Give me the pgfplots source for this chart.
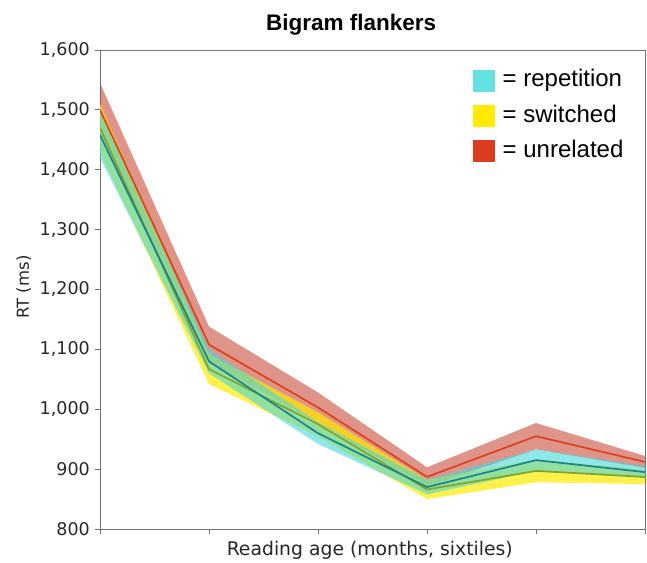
\documentclass[border=0pt]{standalone}
\usepackage{pgfplots}
\pgfplotsset{compat=1.18}
\usepackage{pgfplotstable}
\usepgfplotslibrary{fillbetween}
\usepackage{fontspec}
\setmainfont{DejaVu Sans}
\newfontfamily\arial{Liberation Sans}

\definecolor{repF}{RGB}{70,215,215}
\definecolor{swF}{RGB}{255,235,0}
\definecolor{unF}{RGB}{195,60,40}
\definecolor{repL}{RGB}{30,130,140}
\definecolor{swL}{RGB}{130,165,40}
\definecolor{unL}{RGB}{220,65,30}
\definecolor{repK}{RGB}{100,225,225}
\definecolor{swK}{RGB}{255,235,0}
\definecolor{unK}{RGB}{220,60,30}

% x, then mean / lower / upper for repetition, switched, unrelated
\pgfplotstableread{
x rm   rl   rh   sm   sl   sh   um   ul   uh
0 1458 1420 1496 1470 1430 1510 1500 1455 1545
1 1080 1060 1100 1067 1042 1092 1108 1078 1138
2 960  942  978  975  955  995  1003 978  1028
3 870  858  882  866  850  882  887  871  903
4 915  897  933  897  878  916  955  933  977
5 895  885  905  887  875  899  912  902  922
}\data

\begin{document}
\begin{tikzpicture}
\begin{axis}[
width=545pt, height=479pt, scale only axis,
xmin=0, xmax=5, ymin=800, ymax=1600,
xtick={0,...,5}, xticklabels={},
ytick={800,900,...,1600},
tick pos=left, tick align=outside, major tick length=5pt,
tick style={color=black!55, line width=0.8pt},
axis line style={black!55, line width=0.8pt},
/pgf/number format/assume math mode=true,
/pgf/number format/1000 sep={,},
yticklabel style={font=\fontsize{17.5}{20}\selectfont, text=black!85, inner sep=0pt, xshift=-5pt},
title={Bigram flankers},
title style={font=\arial\bfseries\fontsize{22.5}{26}\selectfont, at={(axis description cs:0.461,1)}, anchor=base, inner sep=0pt, yshift=13pt},
xlabel={Reading age (months, sixtiles)},
xlabel style={font=\fontsize{18.8}{22}\selectfont, text=black!85, at={(axis description cs:0.495,0)}, anchor=base, inner sep=0pt, yshift=-27pt},
ylabel={RT (ms)},
ylabel style={font=\fontsize{16.5}{20}\selectfont, text=black!85, at={(axis description cs:-0.140,0.505)}, anchor=center, inner sep=0pt},
legend style={draw=none, fill=none, at={(axis description cs:0.679,0.9635)}, anchor=north west,
  font=\arial\fontsize{24}{28}\selectfont, row sep=14pt,
  nodes={inner sep=0pt, anchor=west, text height=17pt, text depth=4pt}},
legend cell align=left,
]
\addlegendimage{legend image code/.code={\fill[repK] (0pt,-10.5pt) rectangle (21pt,10.5pt);}}
\addlegendentry{\hspace{8pt}= repetition}
\addlegendimage{legend image code/.code={\fill[swK] (0pt,-10.5pt) rectangle (21pt,10.5pt);}}
\addlegendentry{\hspace{8pt}= switched}
\addlegendimage{legend image code/.code={\fill[unK] (0pt,-10.5pt) rectangle (21pt,10.5pt);}}
\addlegendentry{\hspace{8pt}= unrelated}

% unrelated band
\addplot[draw=none, forget plot, name path=uh] table[x=x, y=uh] {\data};
\addplot[draw=none, forget plot, name path=ul] table[x=x, y=ul] {\data};
\addplot[unF, fill opacity=0.55, forget plot] fill between[of=uh and ul];
% switched band
\addplot[draw=none, forget plot, name path=sh] table[x=x, y=sh] {\data};
\addplot[draw=none, forget plot, name path=sl] table[x=x, y=sl] {\data};
\addplot[swF, fill opacity=0.7, forget plot] fill between[of=sh and sl];
% repetition band
\addplot[draw=none, forget plot, name path=rh] table[x=x, y=rh] {\data};
\addplot[draw=none, forget plot, name path=rl] table[x=x, y=rl] {\data};
\addplot[repF, fill opacity=0.6, forget plot] fill between[of=rh and rl];

% means
\addplot[unL, line width=1.7pt, forget plot] table[x=x, y=um] {\data};
\addplot[swL, line width=1.7pt, forget plot] table[x=x, y=sm] {\data};
\addplot[repL, line width=1.7pt, forget plot] table[x=x, y=rm] {\data};
\end{axis}
\path (current axis.south west) ++(-100pt,-34pt) coordinate (bl);
\path (current axis.north east) ++(2pt,50pt) coordinate (tr);
\pgfresetboundingbox
\path[use as bounding box] (bl) rectangle (tr);
\end{tikzpicture}
\end{document}
